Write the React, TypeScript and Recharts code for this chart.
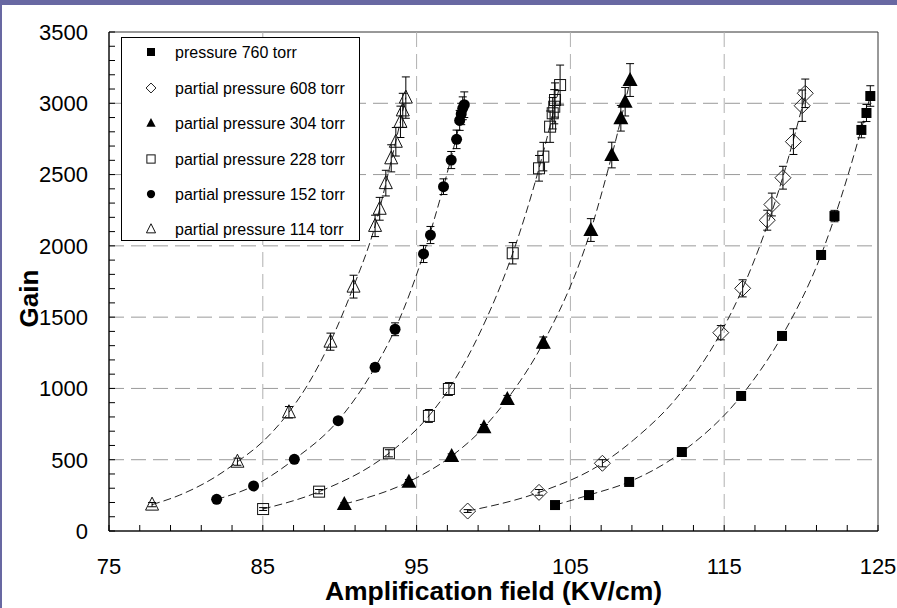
import React from 'react';
import {
  ComposedChart,
  XAxis,
  YAxis,
  Scatter,
  Line,
  ErrorBar,
  ReferenceLine,
  ReferenceArea,
} from 'recharts';

const FONT = '"Liberation Sans", Arial, Helvetica, sans-serif';

// ---- axes / ticks ----
const xTicks = [75, 77, 79, 81, 83, 85, 87, 89, 91, 93, 95, 97, 99, 101, 103, 105, 107, 109, 111, 113, 115, 117, 119, 121, 123, 125];
const xTickLabels = [75, 85, 95, 105, 115, 125];
const yTicks = [0, 100, 200, 300, 400, 500, 600, 700, 800, 900, 1000, 1100, 1200, 1300, 1400, 1500, 1600, 1700, 1800, 1900, 2000, 2100, 2200, 2300, 2400, 2500, 2600, 2700, 2800, 2900, 3000, 3100, 3200, 3300, 3400, 3500];
const yTickLabels = [0, 500, 1000, 1500, 2000, 2500, 3000, 3500];
const xGrid = [85, 95, 105, 115];
const yGrid = [500, 1000, 1500, 2000, 2500, 3000];

// ---- measured points ----
const p760X = [104.0, 106.21, 108.82, 112.25, 116.1, 118.76, 121.3, 122.17, 123.92, 124.25, 124.5];
const p760G = [182, 252, 344, 554, 947, 1368, 1936, 2209, 2813, 2932, 3051];
const p760E = [8, 10, 12, 15, 20, 25, 30, 40, 55, 60, 72];

const p608X = [98.32, 102.96, 107.08, 114.78, 116.2, 117.8, 118.1, 118.82, 119.5, 120.07, 120.27];
const p608G = [140, 271, 475, 1391, 1702, 2180, 2290, 2478, 2731, 2983, 3070];
const p608E = [10, 20, 25, 50, 60, 70, 80, 80, 90, 110, 100];

const p304X = [90.3, 94.5, 97.28, 99.38, 100.9, 103.24, 106.33, 107.69, 108.28, 108.56, 108.88];
const p304G = [189, 346, 526, 727, 926, 1321, 2111, 2637, 2895, 3011, 3163];
const p304E = [10, 15, 15, 20, 25, 40, 80, 90, 90, 100, 115];

const p228X = [85.02, 88.66, 93.2, 95.8, 97.1, 101.25, 102.96, 103.24, 103.68, 103.85, 103.95, 104.0, 104.33];
const p228G = [154, 276, 545, 807, 996, 1948, 2544, 2626, 2836, 2930, 2976, 3023, 3128];
const p228E = [10, 15, 25, 45, 45, 75, 90, 100, 110, 110, 120, 120, 140];

const p152X = [82.0, 84.4, 87.05, 89.9, 92.3, 93.6, 95.45, 95.9, 96.75, 97.25, 97.6, 97.8, 97.9, 98.0, 98.1];
const p152G = [222, 316, 503, 774, 1148, 1415, 1943, 2076, 2415, 2602, 2747, 2880, 2925, 2965, 2990];
const p152E = [10, 12, 15, 20, 25, 45, 60, 60, 55, 60, 65, 70, 75, 80, 90];

const p114X = [77.8, 83.35, 86.7, 89.4, 90.9, 92.3, 92.6, 93.0, 93.35, 93.65, 93.95, 94.1, 94.3];
const p114G = [185, 486, 833, 1328, 1714, 2140, 2260, 2440, 2614, 2730, 2870, 2950, 3040];
const p114E = [15, 25, 40, 60, 80, 75, 80, 90, 95, 100, 110, 120, 145];

// ---- fitted dashed curves ----
const fit760X = [104.0, 106.2, 108.8, 112.25, 116.1, 118.76, 121.3, 123.9, 124.5];
const fit760G = [182, 252, 344, 554, 947, 1368, 1936, 2813, 3051];
const fit608X = [98.32, 102.96, 107.08, 109.1, 112.15, 114.78, 116.2, 118.8, 120.3];
const fit608G = [140, 271, 475, 638, 966, 1391, 1702, 2478, 3070];
const fit304X = [90.3, 94.5, 97.28, 99.38, 100.9, 103.24, 106.33, 107.7, 108.9];
const fit304G = [189, 346, 526, 727, 926, 1321, 2111, 2637, 3163];
const fit228X = [85.0, 88.66, 93.2, 95.8, 97.1, 99.2, 101.25, 103.0, 104.3];
const fit228G = [154, 276, 545, 807, 996, 1410, 1948, 2560, 3120];
const fit152X = [82.0, 84.4, 87.05, 89.9, 92.3, 93.6, 95.45, 96.75, 98.1];
const fit152G = [222, 316, 503, 774, 1148, 1415, 1943, 2415, 2990];
const fit114X = [77.8, 79.6, 82.0, 83.35, 85.0, 86.7, 88.0, 89.4, 90.9, 92.3, 93.4, 94.3];
const fit114G = [185, 252, 385, 486, 627, 833, 1040, 1328, 1714, 2140, 2620, 3040];

const seriesNames = [
  'pressure 760 torr',
  'partial pressure 608 torr',
  'partial pressure 304 torr',
  'partial pressure 228 torr',
  'partial pressure 152 torr',
  'partial pressure 114 torr',
];
const seriesKinds = ['fsquare', 'odiamond', 'ftriangle', 'osquare', 'fcircle', 'otriangle'];

const pts = (xs: number[], gs: number[], es: number[]) => xs.map((x, i) => ({ x, g: gs[i], err: es[i] }));
const curve = (xs: number[], gs: number[]) => xs.map((x, i) => ({ x, g: gs[i] }));

const series = [
  { data: pts(p760X, p760G, p760E), fit: curve(fit760X, fit760G) },
  { data: pts(p608X, p608G, p608E), fit: curve(fit608X, fit608G) },
  { data: pts(p304X, p304G, p304E), fit: curve(fit304X, fit304G) },
  { data: pts(p228X, p228G, p228E), fit: curve(fit228X, fit228G) },
  { data: pts(p152X, p152G, p152E), fit: curve(fit152X, fit152G) },
  { data: pts(p114X, p114G, p114E), fit: curve(fit114X, fit114G) },
];

function Marker({ kind, cx, cy, s = 1 }: { kind: string; cx: number; cy: number; s?: number }) {
  if (cx == null || cy == null) return null;
  switch (kind) {
    case 'fsquare': {
      const h = 5 * s;
      return <rect x={cx - h} y={cy - h} width={2 * h} height={2 * h} fill="#000" />;
    }
    case 'osquare': {
      const h = 5.5 * s;
      return <rect x={cx - h} y={cy - h} width={2 * h} height={2 * h} fill="none" stroke="#111" strokeWidth={1} />;
    }
    case 'odiamond': {
      const h = 8 * s;
      return (
        <polygon
          points={`${cx},${cy - h} ${cx + h},${cy} ${cx},${cy + h} ${cx - h},${cy}`}
          fill="none"
          stroke="#222"
          strokeWidth={1}
        />
      );
    }
    case 'ftriangle': {
      const w = 7.5 * s;
      return (
        <polygon
          points={`${cx},${cy - 8 * s} ${cx + w},${cy + 6 * s} ${cx - w},${cy + 6 * s}`}
          fill="#000"
        />
      );
    }
    case 'otriangle': {
      const w = 6.5 * s;
      return (
        <polygon
          points={`${cx},${cy - 7.5 * s} ${cx + w},${cy + 5.5 * s} ${cx - w},${cy + 5.5 * s}`}
          fill="none"
          stroke="#111"
          strokeWidth={1}
        />
      );
    }
    case 'fcircle':
    default:
      return <circle cx={cx} cy={cy} r={5.5 * s} fill="#000" />;
  }
}

const xFmt = (v: number) => (xTickLabels.includes(v) ? String(v) : '');
const yFmt = (v: number) => (yTickLabels.includes(v) ? String(v) : '');

function Legend() {
  const rowY = [15, 51, 86, 122, 157, 192];
  const symScale = [0.8, 0.62, 0.62, 0.75, 0.75, 0.7];
  return (
    <div
      style={{
        position: 'absolute',
        left: 121,
        top: 37,
        width: 239,
        height: 204,
        boxSizing: 'border-box',
        border: '1px solid #000',
        background: '#fff',
      }}
    >
      {seriesNames.map((name, i) => (
        <div key={name}>
          <svg
            width={20}
            height={20}
            style={{ position: 'absolute', left: 30 - 10 - 1, top: rowY[i] - 10 - 1 }}
          >
            <Marker kind={seriesKinds[i]} cx={10} cy={10} s={symScale[i]} />
          </svg>
          <div
            style={{
              position: 'absolute',
              left: 53,
              top: rowY[i] - 10,
              height: 20,
              lineHeight: '20px',
              fontFamily: FONT,
              fontSize: 16,
              color: '#000',
              whiteSpace: 'nowrap',
            }}
          >
            {name}
          </div>
        </div>
      ))}
    </div>
  );
}

export default function App() {
  return (
    <div style={{ position: 'absolute', left: 0, top: 0, width: 897, height: 608, background: '#fff', overflow: 'hidden' }}>
      <ComposedChart
        width={897}
        height={608}
        margin={{ top: 32, right: 19, bottom: 17, left: 0 }}
        style={{ fontFamily: FONT }}
      >
        <XAxis
          dataKey="x"
          type="number"
          domain={[75, 125]}
          ticks={xTicks}
          interval={0}
          allowDataOverflow
          tickFormatter={xFmt}
          tickSize={-6}
          tickMargin={33}
          height={60}
          stroke="#000"
          axisLine={{ stroke: '#000' }}
          tickLine={{ stroke: '#000' }}
          tick={{ fontSize: 22, fill: '#000', fontFamily: FONT }}
          label={{
            value: 'Amplification field (KV/cm)',
            position: 'insideBottom',
            offset: -9,
            style: { fontSize: 26.5, fontWeight: 'bold', fill: '#000', fontFamily: FONT },
          }}
        />
        <YAxis
          dataKey="g"
          type="number"
          domain={[0, 3500]}
          ticks={yTicks}
          interval={0}
          allowDataOverflow
          tickFormatter={yFmt}
          tickSize={-6}
          tickMargin={27}
          width={109}
          stroke="#000"
          axisLine={{ stroke: '#000' }}
          tickLine={{ stroke: '#000' }}
          tick={{ fontSize: 22, fill: '#000', fontFamily: FONT }}
          label={{
            content: (props: any) => {
              const vb = props.viewBox || { x: 0, y: 32, width: 109, height: 499 };
              const cx = vb.x + 29;
              const cy = vb.y + vb.height / 2 + 17;
              return (
                <text
                  x={cx}
                  y={cy}
                  transform={`rotate(-90 ${cx} ${cy})`}
                  textAnchor="middle"
                  dominantBaseline="central"
                  style={{ fontSize: 26, fontWeight: 'bold', fill: '#000', fontFamily: FONT }}
                >
                  Gain
                </text>
              );
            },
          }}
        />
        {yGrid.map((v) => (
          <ReferenceLine key={`h${v}`} y={v} stroke="#9a9a9a" strokeDasharray="15 7" strokeWidth={1} />
        ))}
        {xGrid.map((v) => (
          <ReferenceLine key={`v${v}`} x={v} stroke="#b0b0b0" strokeDasharray="15 7" strokeWidth={1} />
        ))}
        <ReferenceArea x1={75} x2={125} y1={0} y2={3500} fill="none" fillOpacity={0} stroke="#333" strokeWidth={1} />
        {series.map((s, i) => (
          <Line
            key={`fit${i}`}
            data={s.fit}
            dataKey="g"
            type="monotone"
            stroke="#222"
            strokeWidth={1}
            strokeDasharray="8 4"
            dot={false}
            activeDot={false}
            legendType="none"
            isAnimationActive={false}
          />
        ))}
        {series.map((s, i) => (
          <Scatter
            key={`pts${i}`}
            name={seriesNames[i]}
            data={s.data}
            dataKey="g"
            isAnimationActive={false}
            shape={(p: any) => <Marker kind={seriesKinds[i]} cx={p.cx} cy={p.cy} />}
          >
            <ErrorBar dataKey="err" direction="y" width={4} stroke="#000" strokeWidth={1} />
          </Scatter>
        ))}
      </ComposedChart>
      <Legend />
      <div style={{ position: 'absolute', left: 0, top: 0, width: 897, height: 5, background: '#6868a2' }} />
      <div style={{ position: 'absolute', left: 0, top: 0, width: 2, height: 608, background: '#6868a2' }} />
    </div>
  );
}
